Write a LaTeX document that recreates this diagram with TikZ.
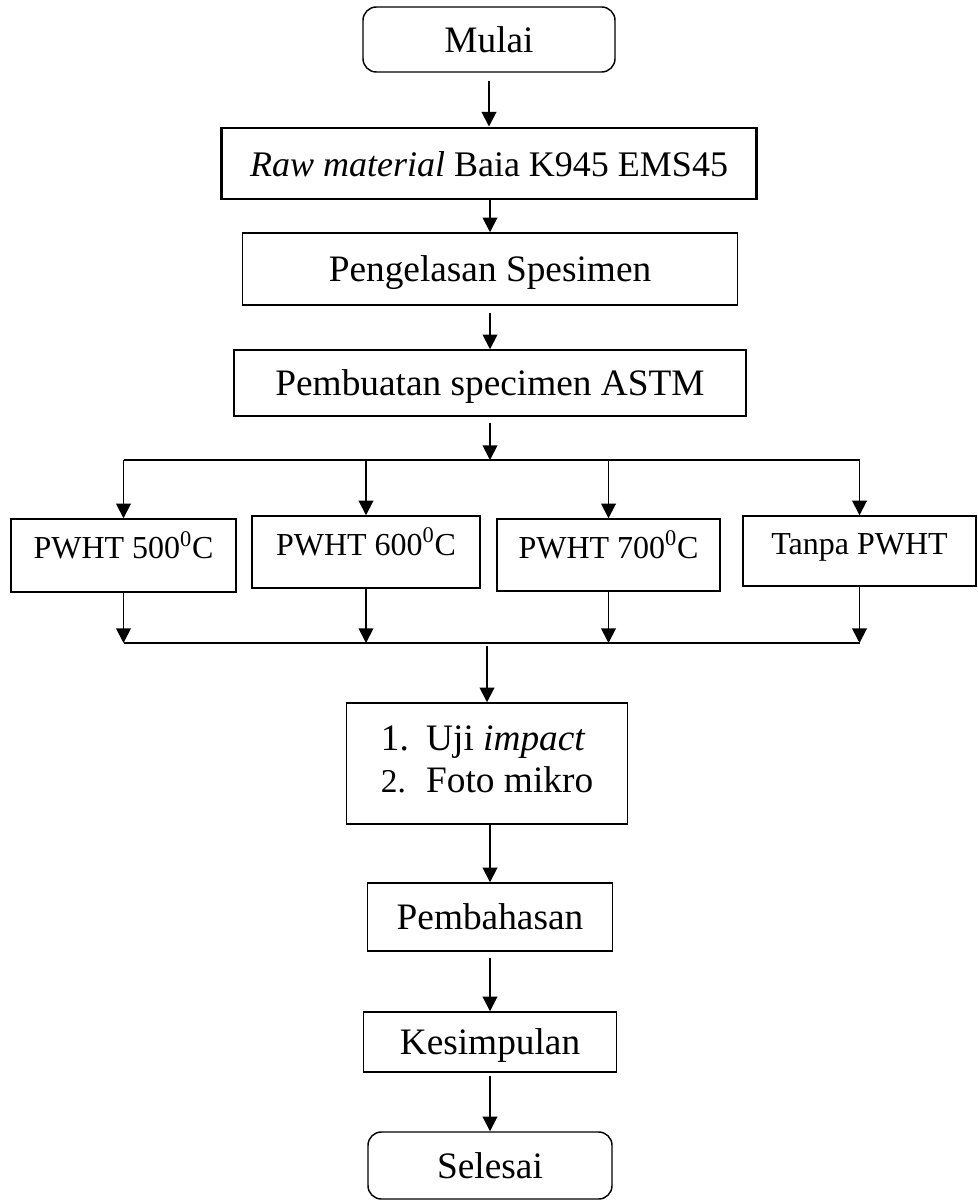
\documentclass[tikz,border=0pt]{standalone}
\usepackage{fontspec}
\setmainfont{Liberation Serif}
\usetikzlibrary{arrows.meta,calc}
\begin{document}
\begin{tikzpicture}[x=0.75pt,y=-0.75pt,
  bx/.style n args={2}{draw, line width=1.1pt, minimum width=#1*0.75pt, minimum height=#2*0.75pt, inner sep=0pt, font=\fontsize{28}{32}\selectfont, text height=19pt, text depth=0pt},
  sbx/.style n args={2}{bx={#1}{#2}, font=\fontsize{24}{28}\selectfont, text height=22pt, text depth=17.5pt},
  term/.style={rounded corners=10pt},
  thick box/.style={line width=2.2pt},
  ln/.style={line width=1.4pt},
  arr/.style={ln, -{Triangle[width=11pt,length=11pt]}}]
\useasboundingbox (0,0) rectangle (977,1201);
% central column
\node[bx={252}{65}, term] (mulai) at (489,39.5) {Mulai};
\node[bx={535}{71}, thick box, text depth=-3pt] (raw) at (489,163.5) {\fontsize{27}{32}\selectfont\textit{Raw material} Baia K945 EMS45};
\node[bx={495}{72}] (peng) at (490,269) {Pengelasan Spesimen};
\node[bx={512}{66}] (pemb) at (490,383) {Pembuatan specimen ASTM};
% branch row
\node[sbx={225}{73}] (p500) at (123.5,555.5) {PWHT 500\textsuperscript{0}C};
\node[sbx={228}{72}] (p600) at (366,552) {PWHT 600\textsuperscript{0}C};
\node[sbx={223}{72}] (p700) at (608.5,555) {PWHT 700\textsuperscript{0}C};
\node[sbx={233}{70}] (tanpa) at (859.5,551) {Tanpa PWHT};
% lower column
\node[bx={281}{121}, text height=, text depth=] (uji) at (487,763.5) {\fontsize{28}{31.5}\selectfont\begin{tabular}{@{}l@{\hspace{13pt}}l@{}}1. & Uji \textit{impact}\\ {\fontsize{25}{31.5}\selectfont 2.} & Foto mikro\end{tabular}};
\node[bx={245}{68}] (bahas) at (490,917) {Pembahasan};
\node[bx={253}{60}] (kes) at (490,1042) {Kesimpulan};
\node[bx={244}{67}, term] (sel) at (490,1165.5) {Selesai};
% helper coordinates
\coordinate (br) at (0,460);
\coordinate (mg) at (0,643);
% connectors
\draw[arr] ($(mulai.south)+(0,8)$) -- (raw.north);
\draw[arr] (peng.north |- raw.south) -- (peng.north);
\draw[arr] ($(peng.south)+(0,7)$) -- (pemb.north);
\draw[arr] ($(pemb.south)+(0,6)$) -- (pemb.south |- br);
\draw[ln] (p500.north |- br) -- (tanpa.north |- br);
\foreach \n in {p500,p600,p700,tanpa}{
  \draw[arr] (\n.north |- br) -- (\n.north);
  \draw[arr] (\n.south) -- (\n.south |- mg);
}
\draw[ln] (p500.south |- mg) -- (tanpa.south |- mg);
\draw[arr] ($(uji.north |- mg)+(0,3)$) -- (uji.north);
\draw[arr] (bahas.north |- uji.south) -- (bahas.north);
\draw[arr] ($(bahas.south)+(0,6)$) -- (kes.north);
\draw[arr] ($(kes.south)+(0,3)$) -- (sel.north);
\end{tikzpicture}
\end{document}
